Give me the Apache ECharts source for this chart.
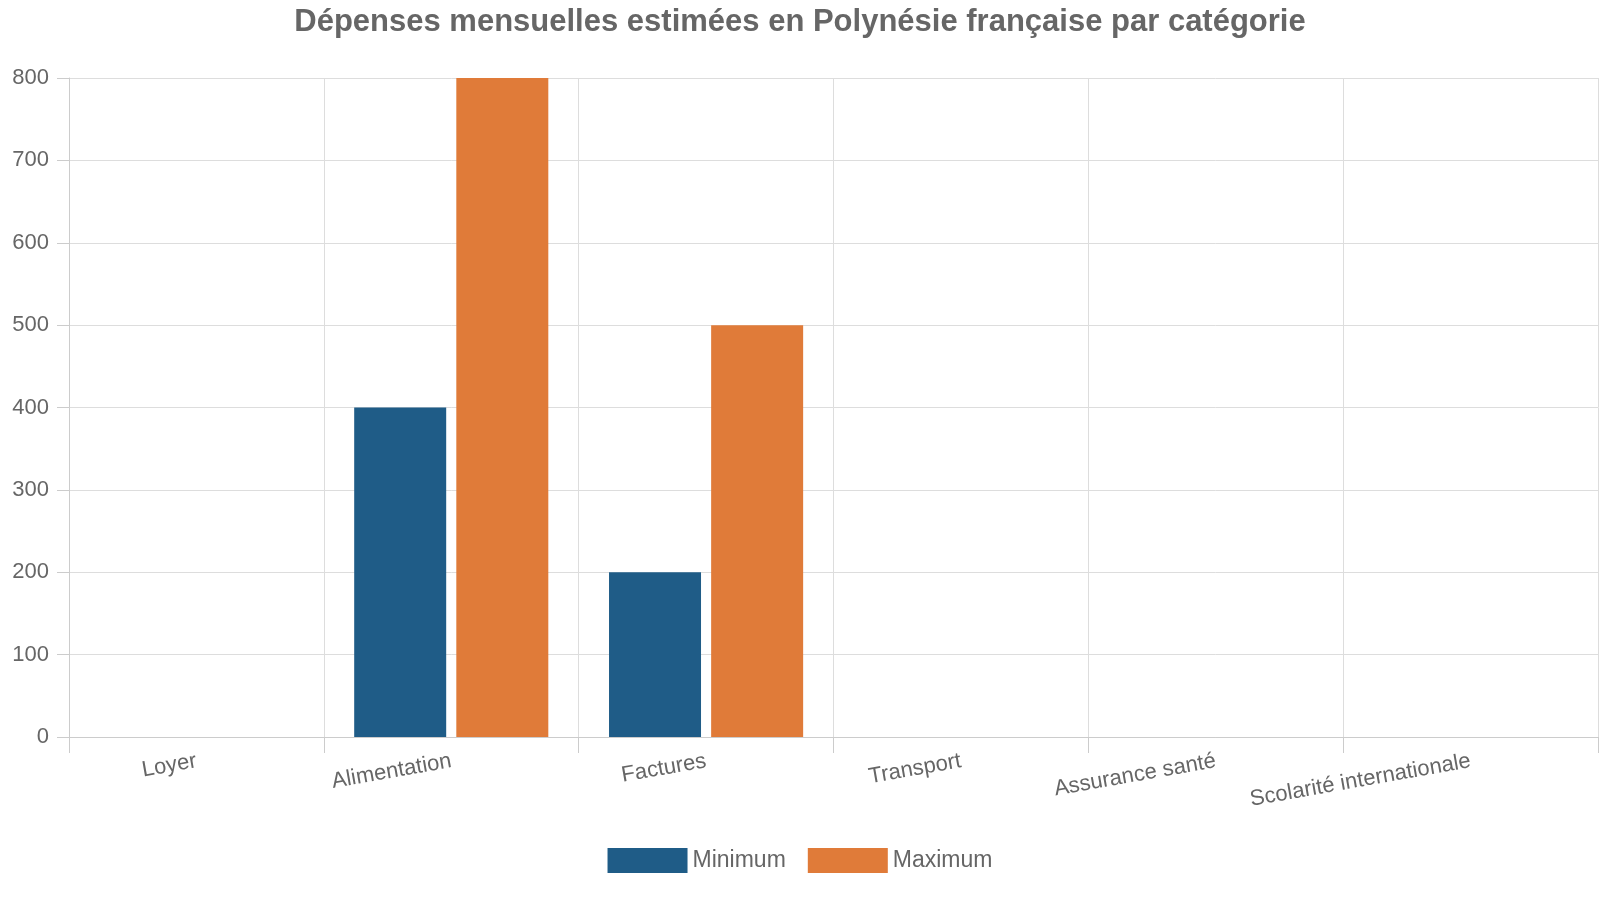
<!DOCTYPE html>
<html><head><meta charset="utf-8">
<script src="https://cdn.jsdelivr.net/npm/echarts@6/dist/echarts.min.js"></script>
<style>html,body{margin:0;padding:0;background:#fff}#c{width:1600px;height:900px}</style>
</head><body><div id="c"></div>
<script>
const categories = ["Loyer","Alimentation","Factures","Transport","Assurance santé","Scolarité internationale"];
const minimumValues = [0,400,200,0,0,0];
const maximumValues = [0,800,500,0,0,0];
const yTicks = {min:0,max:800,interval:100};
const chart = echarts.init(document.getElementById('c'));
chart.setOption({
  textStyle:{fontFamily:'Liberation Sans, Arial, sans-serif'},
  title:{text:'Dépenses mensuelles estimées en Polynésie française par catégorie',left:'center',top:2,
    textStyle:{fontSize:31,fontWeight:'bold',color:'#666',fontFamily:'Liberation Sans, Arial, sans-serif'}},
  legend:{bottom:22,left:'center',itemWidth:80,itemHeight:25,itemGap:22,
    icon:'rect',
    textStyle:{fontSize:23,color:'#666'},data:['Minimum','Maximum']},
  grid:{left:69,right:2,top:78,bottom:163,containLabel:false},
  xAxis:{type:'category',data:categories,boundaryGap:true,
    axisLine:{lineStyle:{color:'#ccc'}},
    axisTick:{show:true,length:16,lineStyle:{color:'#ccc'}},
    splitLine:{show:true,lineStyle:{color:'#ddd'}},
    axisLabel:{rotate:10,fontSize:22,color:'#666',margin:24,interval:0}},
  yAxis:{type:'value',min:yTicks.min,max:yTicks.max,interval:yTicks.interval,
    axisLine:{show:true,lineStyle:{color:'#ccc'}},
    axisTick:{show:true,length:12,lineStyle:{color:'#ccc'}},
    splitLine:{lineStyle:{color:'#ddd'}},
    axisLabel:{fontSize:22,color:'#666',margin:20}},
  series:[
    {name:'Minimum',type:'bar',data:minimumValues,barWidth:92,barGap:'11%',itemStyle:{color:'#1f5c87'}},
    {name:'Maximum',type:'bar',data:maximumValues,barWidth:92,itemStyle:{color:'#e07b39'}}
  ]
});
</script></body></html>
